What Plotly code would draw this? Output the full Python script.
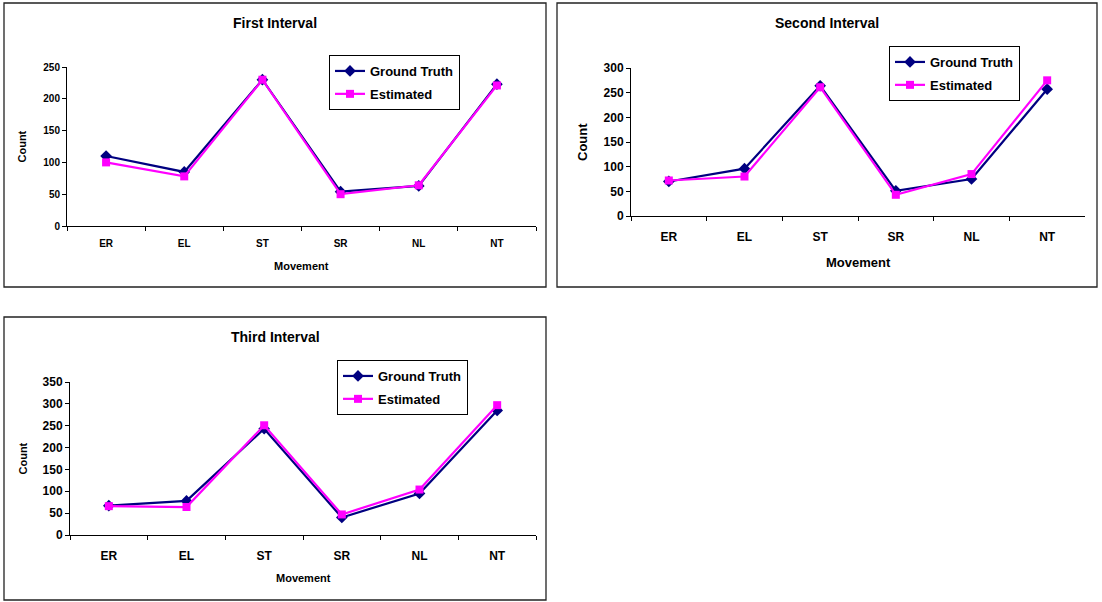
import plotly.graph_objects as go

W, H = 1102, 602

movements = ["ER", "EL", "ST", "SR", "NL", "NT"]

first_truth = [110, 85, 230, 54, 63, 223]
first_est = [100, 78, 230, 50, 64, 221]

second_truth = [70, 96, 264, 51, 75, 257]
second_est = [72, 80, 261, 43, 85, 275]

third_truth = [67, 78, 243, 40, 95, 285]
third_est = [66, 64, 251, 47, 104, 297]

titles = ["First Interval", "Second Interval", "Third Interval"]
series_names = ["Ground Truth", "Estimated"]

FONT = "Liberation Sans, Arial, sans-serif"
NAVY = "#000080"
MAGENTA = "#FF00FF"

# panel layout in pixels: frame box, plot box, y max, font sizes, legend corner
panels = [
    dict(frame=(4, 3, 546, 287), plot=(67, 67, 536, 226), ymax=250,
         title_y=23, tick=10, xtick=10, axt=10, leg=(329, 55),
         count_x=22, move_y=266, lab_pad=8),
    dict(frame=(557, 3, 1097, 287), plot=(631, 68, 1085, 216), ymax=300,
         title_y=23, tick=12, xtick=12, axt=12, leg=(889, 46),
         count_x=582, move_y=262, lab_pad=10),
    dict(frame=(4, 317, 546, 600), plot=(70, 382, 536, 535), ymax=350,
         title_y=337, tick=12, xtick=12, axt=10, leg=(337, 360),
         count_x=22, move_y=578, lab_pad=10),
]

data = [(first_truth, first_est), (second_truth, second_est), (third_truth, third_est)]

fig = go.Figure()
shapes = []
annotations = []


def px(x):
    return x / W


def py(y):
    return 1 - y / H


for i, (p, (truth, est)) in enumerate(zip(panels, data)):
    n = "" if i == 0 else str(i + 1)
    xa, ya = "x" + n, "y" + n
    leg = "legend" + n
    fig.add_trace(go.Scatter(
        x=movements, y=truth, name=series_names[0], mode="lines+markers",
        line=dict(color=NAVY, width=2.2),
        marker=dict(symbol="diamond", size=9, color=NAVY),
        xaxis=xa, yaxis=ya, legend=leg, legendgroup="gt" + n))
    fig.add_trace(go.Scatter(
        x=movements, y=est, name=series_names[1], mode="lines+markers",
        line=dict(color=MAGENTA, width=2.2),
        marker=dict(symbol="square", size=8, color=MAGENTA),
        xaxis=xa, yaxis=ya, legend=leg, legendgroup="est" + n))

    x0, y0, x1, y1 = p["plot"]
    axis_common = dict(showline=True, linecolor="black", linewidth=1,
                       showgrid=False, zeroline=False, ticks="outside",
                       tickcolor="black", ticklen=4, automargin=False)
    fig.update_layout(**{
        "xaxis" + n: dict(
            domain=[px(x0), px(x1)], anchor=ya, type="category",
            range=[-0.5, 5.5], tickson="boundaries",
            tickfont=dict(family=FONT, size=p["xtick"], color="black", weight="bold"),
            ticklabelstandoff=p["lab_pad"], **axis_common),
        "yaxis" + n: dict(
            domain=[py(y1), py(y0)], anchor=xa, range=[0, p["ymax"]],
            dtick=50, tickfont=dict(family=FONT, size=p["tick"], color="black", weight="bold"),
            **axis_common),
        leg: dict(
            x=px(p["leg"][0]), y=py(p["leg"][1]), xanchor="left", yanchor="top",
            bgcolor="white", bordercolor="black", borderwidth=1,
            font=dict(family=FONT, size=13, color="black", weight="bold"),
            tracegroupgap=3, itemwidth=30),
    })

    fx0, fy0, fx1, fy1 = p["frame"]
    shapes.append(dict(type="rect", xref="paper", yref="paper",
                       x0=px(fx0), x1=px(fx1), y0=py(fy1), y1=py(fy0),
                       line=dict(color="#222222", width=1.3)))

    annotations.append(dict(
        text="<b>%s</b>" % titles[i], xref="paper", yref="paper",
        x=px((fx0 + fx1) / 2), y=py(p["title_y"]), xanchor="center", yanchor="middle",
        showarrow=False, font=dict(family=FONT, size=14, color="black")))
    annotations.append(dict(
        text="<b>Movement</b>", xref="paper", yref="paper",
        x=px((x0 + x1) / 2), y=py(p["move_y"]), xanchor="center", yanchor="middle",
        showarrow=False, font=dict(family=FONT, size=p["axt"] + 1, color="black")))
    annotations.append(dict(
        text="<b>Count</b>", xref="paper", yref="paper", textangle=-90,
        x=px(p["count_x"]), y=py((y0 + y1) / 2), xanchor="center", yanchor="middle",
        showarrow=False, font=dict(family=FONT, size=p["axt"] + 1, color="black")))

fig.update_layout(
    width=W, height=H, margin=dict(l=0, r=0, t=0, b=0, autoexpand=False),
    paper_bgcolor="white", plot_bgcolor="white",
    shapes=shapes, annotations=annotations, showlegend=True,
)

fig.write_html("out.html")
